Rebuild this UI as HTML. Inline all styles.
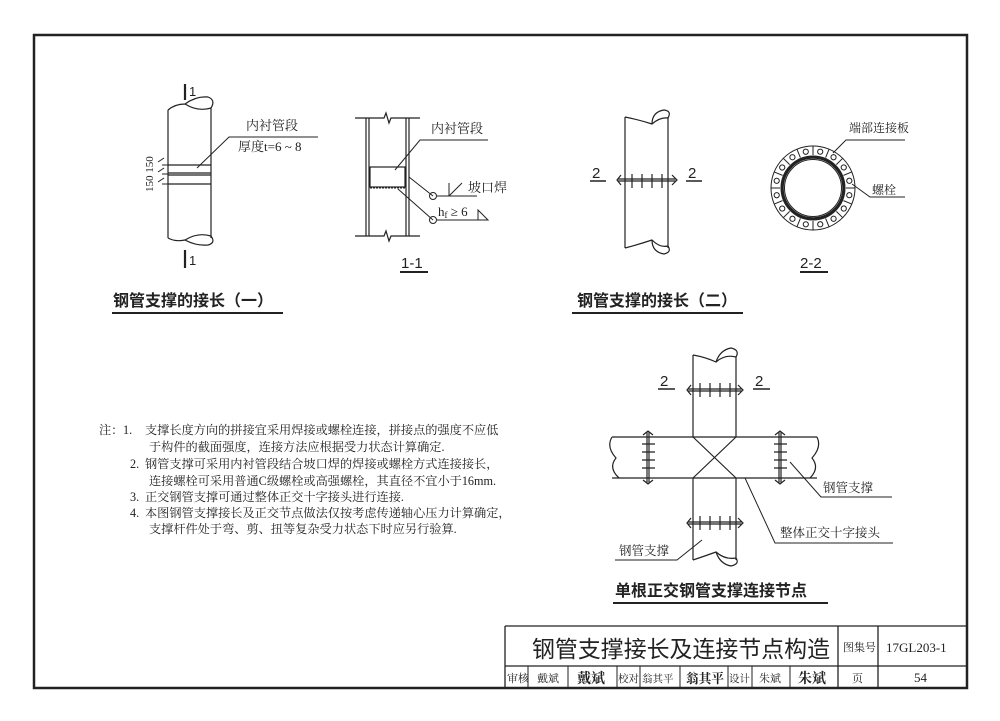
<!DOCTYPE html>
<html><head><meta charset="utf-8"><style>
html,body{margin:0;padding:0;background:#fff;}
svg{display:block;}
text{font-family:"Liberation Serif","Noto Serif CJK SC",serif;fill:#222;}
.s{font-family:"Liberation Sans","Noto Sans CJK SC",sans-serif;}
</style></head><body>
<svg width="1000" height="721" viewBox="0 0 1000 721" xmlns="http://www.w3.org/2000/svg">
<g fill="none" stroke="#222">
<rect x="34" y="35" width="933" height="653" stroke-width="2.5"/>
<path d="M505 626H967M505 626V688M505 666H967M838 626V688M878 626V688" stroke-width="1.3"/>
<path d="M528 666V688M568 666V688M617 666V688M640 666V688M680 666V688M728 666V688M752 666V688M790 666V688" stroke-width="1"/>

<g stroke-width="1.2">
<path d="M168 110V238M211 108V238"/>
<path d="M168 110Q175 104 185 104Q198 112 211 108Q216 100 208 97Q196 96 185 104"/>
<path d="M168 238Q175 242 185 240Q198 232 211 236Q216 243 208 245Q196 246 185 240"/>
<path d="M168 165H211M168 173H211M168 175H211M168 184H211"/>
<path d="M197 168L229 137H318" stroke-width="1"/>
<path d="M185 84V100M185 250V268" stroke-width="2.2"/>
<path d="M158 162L164 158M158 172L164 168M158 182L164 178M162 165H168M162 174H168M162 184H168" stroke-width="1"/>
</g>
<g stroke-width="1.2">
<path d="M366 118V236M369 118V236M406 118V236M409 118V236"/>
<path d="M355 118H384L386 113L389 123L391 118H420M355 236H384L386 231L389 241L391 236H420"/>
<rect x="370" y="167" width="35" height="20"/>
<path d="M370 187.5H405" stroke-dasharray="2 1" stroke-width="2"/>
<path d="M395 170L420 140H488" stroke-width="1"/>
<path d="M409 177L433 196M398 189L433 220" stroke-width="1"/>
<circle cx="433" cy="196" r="3.5" stroke-width="1"/><circle cx="433" cy="220" r="3.5" stroke-width="1"/>
<path d="M437 196H477M449 196V183M449 196L462 183M437 220H488L478 210V220" stroke-width="1"/>
<path d="M400 272H428" stroke-width="2"/>
</g>
<path d="M112 313H283M572 313H743M613 603H828" stroke-width="2"/>

<g stroke-width="1.2">
<path d="M625 117V248M668 117V248"/>
<path d="M625 117Q640 120 652 124Q660 117 668 118Q672 111 664 110Q652 112 652 124"/>
<path d="M625 248Q640 244 652 240Q660 248 668 246Q672 252 664 254Q652 252 652 240"/>
<path d="M618 179H676M618 181H676M621 175L617 180L621 185M672 175L677 180L672 185"/>
<path d="M632 174V188M642 174V188M652 174V188M662 174V188"/>
<path d="M590 181H606M686 181H702" stroke-width="1.5"/>
</g>
<g transform="translate(813 188)" stroke-width="1">
<circle r="42"/><circle r="32"/><circle r="30.5" stroke-width="2.5"/><circle r="28.5"/>
<g id="u"><path d="M33 0H42"/><circle cx="36.3" cy="7.2" r="2.6"/></g>
<use href="#u" transform="rotate(22.5)"/><use href="#u" transform="rotate(45)"/><use href="#u" transform="rotate(67.5)"/>
<use href="#u" transform="rotate(90)"/><use href="#u" transform="rotate(112.5)"/><use href="#u" transform="rotate(135)"/>
<use href="#u" transform="rotate(157.5)"/><use href="#u" transform="rotate(180)"/><use href="#u" transform="rotate(202.5)"/>
<use href="#u" transform="rotate(225)"/><use href="#u" transform="rotate(247.5)"/><use href="#u" transform="rotate(270)"/>
<use href="#u" transform="rotate(292.5)"/><use href="#u" transform="rotate(315)"/><use href="#u" transform="rotate(337.5)"/>
</g>
<path d="M833 153L846 140H905M852 184L870 197H905" stroke-width="1"/>
<path d="M800 272H828" stroke-width="2"/>

<g stroke-width="1.2">
<path d="M693 355V437M736 357V437M693 478V560M736 478V560"/>
<path d="M693 355Q705 357 716 362Q725 354 736 357Q740 350 731 348Q720 350 716 362"/>
<path d="M693 560Q705 556 716 552Q725 560 736 558Q740 564 731 566Q720 564 716 552"/>
<path d="M612 437H817M612 478H817"/>
<path d="M612 437Q606 447 616 458Q608 468 619 478M817 437Q822 447 812 458Q820 468 810 478"/>
<path d="M693 437L736 478M736 437L693 478"/>
<path d="M688 389H742M688 391H742M691 385L687 390L691 395M738 385L743 390L738 395M700 383V397M710 383V397M720 383V397M730 383V397"/>
<path d="M688 522H742M688 524H742M691 518L687 523L691 528M738 518L743 523L738 528M700 516V530M710 516V530M720 516V530M730 516V530"/>
<path d="M647 432V483M649 432V483M643 435L648 431L653 435M643 480L648 484L653 480M642 444H655M642 452H655M642 460H655M642 468H655"/>
<path d="M779 432V483M781 432V483M775 435L780 431L785 435M775 480L780 484L785 480M774 444H787M774 452H787M774 460H787M774 468H787"/>
<path d="M658 389H675M753 389H770" stroke-width="1.5"/>
<path d="M790 462L821 497H892M745 478L775 543H893M702 540L677 560H615" stroke-width="1"/>
</g>
</g>

<g font-size="13">
<text x="189" y="96" class="s">1</text><text x="189" y="265" class="s">1</text>
<text x="246" y="130">内衬管段</text><text x="238" y="151">厚度t=6 ~ 8</text>
<text x="0" y="0" transform="translate(153 192) rotate(-90)" font-size="11">150 150</text>
<text x="431" y="133">内衬管段</text><text x="468" y="192">坡口焊</text>
<text x="438" y="216">h<tspan font-size="9" dy="2">f</tspan><tspan dy="-2"> ≥ 6</tspan></text>
<text x="401" y="268" class="s" font-size="15">1-1</text>
<text x="592" y="178" class="s" font-size="15">2</text><text x="688" y="178" class="s" font-size="15">2</text>
<text x="849" y="132" font-size="12">端部连接板</text><text x="872" y="194" font-size="12">螺栓</text>
<text x="800" y="268" class="s" font-size="15">2-2</text>
<text x="660" y="386" class="s" font-size="15">2</text><text x="755" y="386" class="s" font-size="15">2</text>
<text x="823" y="492" font-size="12.5">钢管支撑</text>
<text x="780" y="537" font-size="12.5">整体正交十字接头</text>
<text x="619" y="555" font-size="12.5">钢管支撑</text>
</g>
<g class="s" font-size="16" font-weight="bold">
<text x="113" y="306" class="s">钢管支撑的接长（一）</text>
<text x="577" y="306" class="s">钢管支撑的接长（二）</text>
<text x="615" y="596" class="s">单根正交钢管支撑连接节点</text>
</g>
<g font-size="12.2">
<text x="99" y="434">注：</text><text x="123" y="434">1.</text>
<text x="145" y="434">支撑长度方向的拼接宜采用焊接或螺栓连接，拼接点的强度不应低</text>
<text x="149" y="451">于构件的截面强度，连接方法应根据受力状态计算确定.</text>
<text x="130" y="468">2.</text>
<text x="145" y="468">钢管支撑可采用内衬管段结合坡口焊的焊接或螺栓方式连接接长，</text>
<text x="149" y="485">连接螺栓可采用普通C级螺栓或高强螺栓，其直径不宜小于16mm.</text>
<text x="130" y="501">3.</text>
<text x="145" y="501">正交钢管支撑可通过整体正交十字接头进行连接.</text>
<text x="130" y="517">4.</text>
<text x="145" y="517">本图钢管支撑接长及正交节点做法仅按考虑传递轴心压力计算确定，</text>
<text x="149" y="533">支撑杆件处于弯、剪、扭等复杂受力状态下时应另行验算.</text>
</g>
<text x="532" y="657" class="s" font-size="23" textLength="298" lengthAdjust="spacingAndGlyphs">钢管支撑接长及连接节点构造</text>
<text x="843" y="651" font-size="11">图集号</text>
<text x="886" y="652" font-size="13">17GL203-1</text>
<g font-size="11">
<text x="507" y="682">审核</text><text x="537" y="682">戴斌</text><text x="577" y="683" font-size="14" font-weight="bold">戴斌</text>
<text x="618" y="682" font-size="10.5">校对</text><text x="642" y="682" font-size="10.5">翁其平</text><text x="686" y="683" font-size="13" font-weight="bold" textLength="38" lengthAdjust="spacingAndGlyphs">翁其平</text>
<text x="729" y="682" font-size="10.5">设计</text><text x="759" y="682">朱斌</text><text x="798" y="683" font-size="14" font-weight="bold">朱斌</text>
<text x="852" y="682">页</text><text x="914" y="682" font-size="13">54</text>
</g>
</svg>
</body></html>
